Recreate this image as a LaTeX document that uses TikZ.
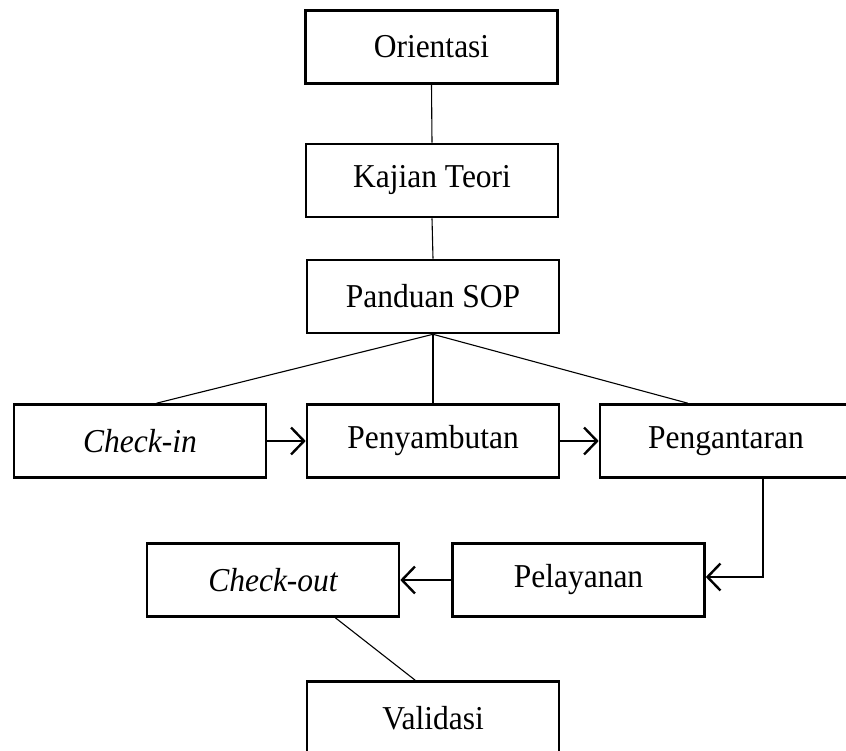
\documentclass[tikz,border=0pt]{standalone}
\usepackage{fontspec}
\setmainfont{Liberation Serif}
\usetikzlibrary{arrows.meta,calc}

% stage labels are set slightly taller than wide and sit a little low
\newcommand{\stagetext}[1]{\raisebox{-2pt}{\scalebox{1}[1.06]{#1}}}

\tikzset{
  stagebox/.style={draw, line width=2.6pt, minimum width=252pt, minimum height=73pt,
    inner sep=0pt, font=\fontsize{31.5}{36}\selectfont, fill=white},
  link/.style={line width=1.1pt},
  flow/.style={line width=2.5pt, -{Straight Barb[length=13pt, width=27pt, line width=2.4pt]}}
}

\begin{document}
\begin{tikzpicture}[x=1pt, y=-1pt]
  \useasboundingbox (0,0) rectangle (846,751);
  \clip (0,0) rectangle (846,751);

  % stages of the procedure
  \node[stagebox] (ori)  at (431.5,47)  {\stagetext{Orientasi}};
  \node[stagebox] (kaj)  at (432,180.5) {\stagetext{Kajian Teori}};
  \node[stagebox] (pan)  at (433,296.5) {\stagetext{Panduan SOP}};
  \node[stagebox] (cin)  at (140,441)   {\stagetext{\itshape Check-in}};
  \node[stagebox] (pen)  at (433,441)   {\stagetext{Penyambutan}};
  \node[stagebox] (pgn)  at (726,441)   {\stagetext{Pengantaran}};
  \node[stagebox] (cout) at (273,580)   {\stagetext{\itshape Check-out}};
  \node[stagebox] (pel)  at (578.5,580) {\stagetext{Pelayanan}};
  \node[stagebox] (val)  at (433,718)   {\stagetext{Validasi}};

  % plain links
  \draw[link] (ori.south) -- (kaj.north);
  \draw[link] (kaj.south) -- (pan.north);
  \draw[link] (pan.south) -- ($(cin.north west)!0.565!(cin.north east)$);
  \draw[link] (pan.south) -- (pen.north);
  \draw[link] (pan.south) -- ($(pgn.north west)!0.35!(pgn.north east)$);
  \draw[link] ($(cout.south west)!0.745!(cout.south east)$) -- ($(val.north west)!0.43!(val.north east)$);

  % service flow
  \draw[flow] (cin.east) -- (pen.west);
  \draw[flow] (pen.east) -- (pgn.west);
  \draw[flow] ($(pgn.south west)!0.646!(pgn.south east)$) |- ($(pel.east)+(0,-3)$);
  \draw[flow] (pel.west) -- (cout.east);
\end{tikzpicture}
\end{document}
